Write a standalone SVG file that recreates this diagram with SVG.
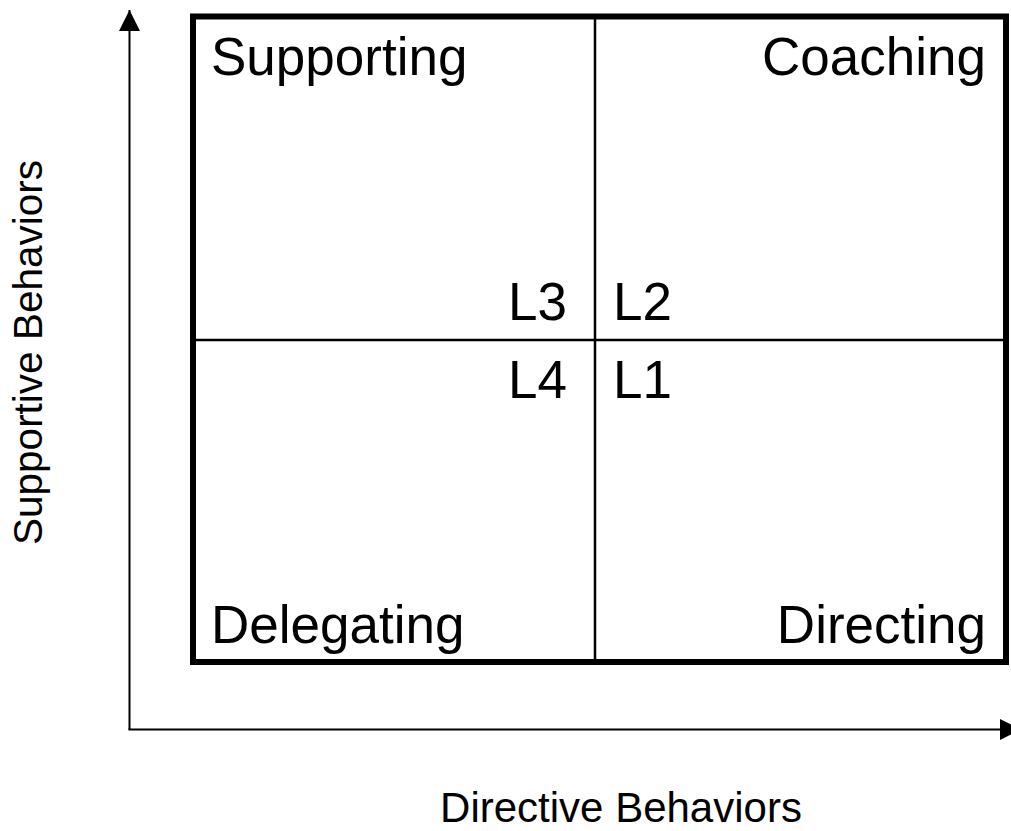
<svg xmlns="http://www.w3.org/2000/svg" width="1011" height="831" viewBox="0 0 1011 831">
<style>
  text { font-family: "Liberation Sans", Arial, sans-serif; fill: #000; }
  .q { font-size: 53px; }
  .ay { font-size: 40.5px; }
  .ax { font-size: 42px; }
  .axis { stroke: #000; stroke-width: 2; fill: none; }
  .div { stroke: #000; stroke-width: 2.5; }
</style>
<defs>
  <marker id="arr" viewBox="0 0 21 21" refX="21" refY="10.5" markerWidth="21" markerHeight="21" markerUnits="userSpaceOnUse" orient="auto">
    <path d="M0,0 L21,10.5 L0,21 Z" fill="#000"/>
  </marker>
</defs>
<rect width="1011" height="831" fill="#fff"/>
<g id="connectors">
  <line class="axis" x1="129.5" y1="730" x2="129.5" y2="10" marker-end="url(#arr)"/>
  <line class="axis" x1="128.5" y1="729.5" x2="1021" y2="729.5" marker-end="url(#arr)"/>
</g>
<g id="grid">
  <rect x="193" y="16.5" width="813" height="645.5" fill="none" stroke="#000" stroke-width="6"/>
  <line class="div" x1="595" y1="16.5" x2="595" y2="662"/>
  <line class="div" x1="193" y1="340" x2="1006" y2="340"/>
</g>
<g id="supporting"><text class="q" x="211" y="75">Supporting</text></g>
<g id="coaching"><text class="q" x="986" y="75" text-anchor="end">Coaching</text></g>
<g id="delegating"><text class="q" x="211" y="643">Delegating</text></g>
<g id="directing"><text class="q" x="986" y="643" text-anchor="end">Directing</text></g>
<g id="l3"><text class="q" x="567" y="320" text-anchor="end">L3</text></g>
<g id="l2"><text class="q" x="613" y="320">L2</text></g>
<g id="l4"><text class="q" x="567" y="398" text-anchor="end">L4</text></g>
<g id="l1"><text class="q" x="613" y="398">L1</text></g>
<g id="y-label"><text class="ay" x="0" y="0" text-anchor="middle" transform="translate(42,352.5) rotate(-90)">Supportive Behaviors</text></g>
<g id="x-label"><text class="ax" x="621" y="822" text-anchor="middle">Directive Behaviors</text></g>
</svg>
